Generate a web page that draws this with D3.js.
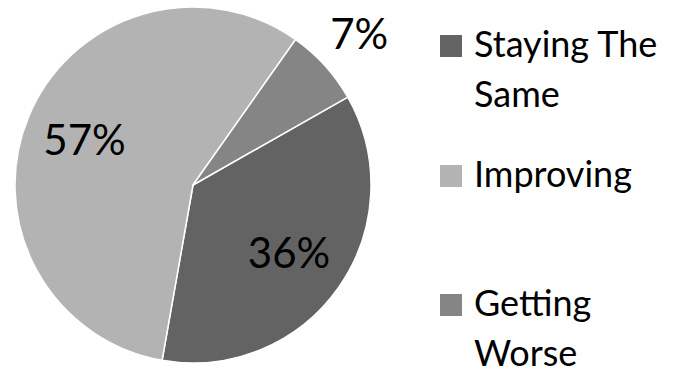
<!DOCTYPE html>
<html>
<head>
<meta charset="utf-8">
<script src="https://cdn.jsdelivr.net/npm/d3@7"></script>
<style>
  html, body { margin: 0; padding: 0; background: #fff; }
  svg { display: block; }
  text { font-family: Lato, "Open Sans", sans-serif; fill: #000; }
</style>
</head>
<body>
<svg id="chart" width="677" height="373"></svg>
<script>
// Share of respondents by outlook
const categories = ["Staying The Same", "Improving", "Getting Worse"];
const values = [36, 57, 7];
const valueLabels = ["36%", "57%", "7%"];
const legendLines = [["Staying The", "Same"], ["Improving"], ["Getting", "Worse"]];

const colors = ["#636363", "#b3b3b3", "#858585"];

const width = 677, height = 373;
const cx = 193, cy = 185, radius = 178;
const startDeg = 60.4;

const svg = d3.select("#chart");

const pie = d3.pie()
  .sort(null)
  .value(d => d)
  .startAngle(startDeg * Math.PI / 180)
  .endAngle((startDeg + 360) * Math.PI / 180);

const arcs = pie(values);
const arc = d3.arc().innerRadius(0).outerRadius(radius);

const g = svg.append("g").attr("transform", `translate(${cx},${cy})`);

g.selectAll("path.slice")
  .data(arcs)
  .join("path")
  .attr("class", "slice")
  .attr("d", arc)
  .attr("fill", (d, i) => colors[i])
  .attr("stroke", "#fff")
  .attr("stroke-width", 1.5)
  .attr("stroke-linejoin", "round");

// Large slices get their label inside, the thin one sits outside the rim
const labelRadius = d => (d.endAngle - d.startAngle) < 0.5 ? radius * 1.26 : radius * 0.66;

g.selectAll("text.value")
  .data(arcs)
  .join("text")
  .attr("class", "value")
  .attr("transform", d => {
    const r = labelRadius(d);
    const [x, y] = d3.arc().innerRadius(r).outerRadius(r).centroid(d);
    return `translate(${x},${y})`;
  })
  .attr("text-anchor", "middle")
  .attr("dy", "0.36em")
  .style("font-size", "42px")
  .text((d, i) => valueLabels[i]);

// Legend
const legendX = 440;
const legendBaselines = [57, 187, 316];
const lineGap = 50;
const sw = 22;

const lg = svg.append("g");
const items = lg.selectAll("g.item")
  .data(categories)
  .join("g")
  .attr("class", "item")
  .attr("transform", (d, i) => `translate(${legendX},${legendBaselines[i]})`);

items.append("rect")
  .attr("x", 0)
  .attr("y", -sw)
  .attr("width", sw)
  .attr("height", sw)
  .attr("fill", (d, i) => colors[i]);

items.append("text")
  .attr("x", 34)
  .style("font-size", "36px")
  .selectAll("tspan")
  .data((d, i) => legendLines[i])
  .join("tspan")
  .attr("x", 34)
  .attr("y", (d, j) => j * lineGap)
  .text(d => d);
</script>
</body>
</html>
